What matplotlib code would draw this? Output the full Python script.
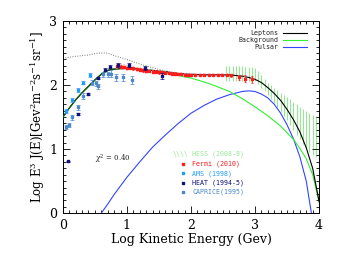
import matplotlib
matplotlib.use("Agg")
import matplotlib.pyplot as plt
from matplotlib.ticker import MultipleLocator
from matplotlib.lines import Line2D

# ---- model curves ----
lep_x = [0, 0.1, 0.2, 0.3, 0.4, 0.5, 0.6, 0.7, 0.8, 1.0, 1.2, 1.4, 1.6, 1.8, 2.0, 2.2, 2.4,
         2.6, 2.8, 2.9, 3.0, 3.1, 3.2, 3.3, 3.4, 3.5, 3.6, 3.7, 3.8, 3.9, 4.0]
lep_y = [1.50, 1.64, 1.77, 1.88, 1.98, 2.08, 2.17, 2.23, 2.25, 2.26, 2.25, 2.23, 2.21, 2.18,
         2.17, 2.16, 2.16, 2.16, 2.14, 2.12, 2.09, 2.04, 1.96, 1.87, 1.76, 1.62, 1.46, 1.27,
         1.02, 0.70, 0.18]
bg_x = [0, 0.1, 0.2, 0.3, 0.4, 0.5, 0.6, 0.7, 0.8, 1.0, 1.2, 1.4, 1.6, 1.8, 2.0, 2.2, 2.4,
        2.6, 2.8, 3.0, 3.2, 3.4, 3.6, 3.7, 3.8, 3.9, 4.0]
bg_y = [1.50, 1.64, 1.77, 1.88, 1.98, 2.08, 2.17, 2.23, 2.25, 2.26, 2.25, 2.23, 2.19, 2.15,
        2.11, 2.05, 1.98, 1.90, 1.79, 1.66, 1.52, 1.36, 1.15, 1.01, 0.85, 0.60, 0.18]
psr_x = [0.6, 0.7, 0.8, 1.0, 1.2, 1.4, 1.6, 1.8, 2.0, 2.2, 2.4, 2.6, 2.8, 2.9, 3.0, 3.1, 3.2,
         3.3, 3.4, 3.5, 3.6, 3.7, 3.8, 3.88]
psr_y = [0.0, 0.14, 0.29, 0.56, 0.80, 1.03, 1.22, 1.40, 1.56, 1.68, 1.78, 1.85, 1.90, 1.91,
         1.90, 1.86, 1.80, 1.70, 1.56, 1.38, 1.16, 0.88, 0.50, 0.0]
dot_x = [0, 0.2, 0.4, 0.55, 0.7, 0.8, 1.0, 1.2, 1.4, 1.6, 1.8]
dot_y = [2.42, 2.45, 2.47, 2.50, 2.50, 2.46, 2.40, 2.33, 2.27, 2.22, 2.19]

# ---- HESS band ----
hess_x = [2.55, 2.6, 2.65, 2.7, 2.75, 2.8, 2.85, 2.9, 2.95, 3.0, 3.05, 3.1, 3.15, 3.2, 3.25,
          3.3, 3.35, 3.4, 3.45, 3.5, 3.55, 3.6, 3.65, 3.7, 3.75, 3.8, 3.85, 3.9, 3.95]
hess_hi = [2.30, 2.30, 2.30, 2.30, 2.30, 2.30, 2.29, 2.28, 2.28, 2.27, 2.22, 2.15, 2.10, 2.04,
           2.00, 1.95, 1.92, 1.88, 1.85, 1.82, 1.78, 1.74, 1.70, 1.66, 1.62, 1.59, 1.56, 1.54, 1.52]
hess_lo = [2.07, 2.07, 2.07, 2.07, 2.07, 2.07, 2.07, 2.07, 2.07, 2.06, 2.01, 1.96, 1.90, 1.84,
           1.78, 1.72, 1.65, 1.58, 1.52, 1.45, 1.38, 1.30, 1.22, 1.15, 1.08, 1.01, 0.95, 0.90, 0.88]

# ---- Fermi 2010 ----
fermi_x = [0.85, 0.9, 0.95, 1.0, 1.05, 1.1, 1.15, 1.2, 1.25, 1.3, 1.35, 1.4, 1.45, 1.5, 1.55,
           1.6, 1.65, 1.7, 1.75, 1.8, 1.85, 1.9, 1.95, 2.0, 2.07, 2.14, 2.21, 2.28, 2.35, 2.42,
           2.49, 2.56, 2.63, 2.75, 2.85, 2.95]
fermi_y = [2.30, 2.29, 2.28, 2.27, 2.27, 2.26, 2.25, 2.24, 2.23, 2.22, 2.22, 2.21, 2.21, 2.20,
           2.20, 2.19, 2.19, 2.18, 2.18, 2.17, 2.17, 2.16, 2.16, 2.16, 2.16, 2.16, 2.16, 2.16,
           2.16, 2.16, 2.16, 2.16, 2.15, 2.12, 2.10, 2.09]
fermi_err = [0.02, 0.02, 0.02, 0.02, 0.02, 0.02, 0.02, 0.02, 0.02, 0.02, 0.02, 0.02, 0.02, 0.02,
             0.02, 0.02, 0.02, 0.02, 0.02, 0.02, 0.02, 0.02, 0.02, 0.02, 0.02, 0.02, 0.02, 0.02,
             0.02, 0.02, 0.02, 0.02, 0.03, 0.04, 0.05, 0.05]
fermi_sys = [0.05, 0.05, 0.05, 0.05, 0.04, 0.04, 0.04, 0.04, 0.04, 0.04, 0.03, 0.03, 0.03, 0.03,
             0.03, 0.03, 0.03, 0.03, 0.03, 0.03, 0.03, 0.03, 0.03, 0.03, 0.03, 0.03, 0.03, 0.03,
             0.03, 0.03, 0.03, 0.03, 0.03, 0.04, 0.05, 0.05]

# ---- AMS 1998 ----
ams_x = [0.05, 0.15, 0.24, 0.32, 0.42]
ams_y = [1.60, 1.77, 1.92, 2.04, 2.16]
ams_err = [0.03, 0.03, 0.03, 0.03, 0.03]

# ---- HEAT 1994-5 ----
heat_x = [0.08, 0.23, 0.39, 0.55, 0.65, 0.74, 0.86, 1.04, 1.28, 1.54]
heat_y = [0.81, 1.55, 1.86, 2.11, 2.24, 2.29, 2.31, 2.31, 2.27, 2.14]
heat_err = [0.01, 0.02, 0.02, 0.02, 0.02, 0.02, 0.03, 0.03, 0.03, 0.05]

# ---- CAPRICE 1995 ----
cap_x = [0.05, 0.10, 0.15, 0.23, 0.32, 0.45, 0.51, 0.55, 0.63, 0.70, 0.75, 0.83, 0.94, 1.08]
cap_y = [1.35, 1.37, 1.50, 1.65, 1.83, 2.04, 2.03, 1.98, 2.17, 2.17, 2.18, 2.12, 2.12, 2.08]
cap_err = [0.03, 0.03, 0.04, 0.04, 0.04, 0.04, 0.04, 0.04, 0.04, 0.04, 0.05, 0.05, 0.05, 0.06]

c_lep = "black"
c_bg = "#33ee33"
c_psr = "#3344ff"
c_hess = "#99e699"
c_fermi = "#ff1a1a"
c_fermi_sys = "#ffb3b3"
c_ams = "#2299ff"
c_heat = "#10107a"
c_cap = "#4a86c8"

plt.rcParams["font.family"] = "DejaVu Serif"
plt.rcParams["mathtext.fontset"] = "dejavuserif"

fig = plt.figure(figsize=(3.38, 2.54), dpi=100)
ax = fig.add_axes([0.186, 0.161, 0.758, 0.756])

# HESS hatched band
ax.vlines(hess_x, hess_lo, hess_hi, color=c_hess, lw=0.8, zorder=1)

# curves
ax.plot(dot_x, dot_y, color="#777777", ls=(0, (1, 1.5)), lw=0.7, zorder=2)
ax.plot(psr_x, psr_y, color=c_psr, lw=0.8, zorder=3)
ax.plot(bg_x, bg_y, color=c_bg, lw=0.8, zorder=3)
ax.plot(lep_x, lep_y, color=c_lep, lw=0.8, zorder=4)
ax.plot(bg_x[:9], bg_y[:9], color="#1a5c1a", lw=0.8, zorder=5)

# data
ax.errorbar(fermi_x, fermi_y, yerr=fermi_sys, fmt="none", ecolor=c_fermi_sys, elinewidth=1.5,
            capsize=0, zorder=5, alpha=0.6)
ax.errorbar(fermi_x, fermi_y, yerr=fermi_err, fmt="s", ms=1.5, color=c_fermi, ecolor=c_fermi,
            elinewidth=0.5, capsize=0.8, capthick=0.5, zorder=6)
ax.errorbar(cap_x, cap_y, yerr=cap_err, fmt="s", ms=1.5, color=c_cap, ecolor=c_cap,
            elinewidth=0.5, capsize=1.2, capthick=0.5, zorder=6)
ax.errorbar(ams_x, ams_y, yerr=ams_err, fmt="s", ms=1.8, color=c_ams, ecolor=c_ams,
            elinewidth=0.5, capsize=1.2, capthick=0.5, zorder=6)
ax.errorbar(heat_x, heat_y, yerr=heat_err, fmt="s", ms=1.8, color=c_heat, ecolor=c_heat,
            elinewidth=0.5, capsize=1.2, capthick=0.5, zorder=7)

ax.set_xlim(0, 4)
ax.set_ylim(0, 3)
ax.xaxis.set_major_locator(MultipleLocator(1))
ax.xaxis.set_minor_locator(MultipleLocator(0.1))
ax.yaxis.set_major_locator(MultipleLocator(1))
ax.yaxis.set_minor_locator(MultipleLocator(0.1))
ax.tick_params(which="both", direction="in", top=True, right=True, width=0.6, labelsize=9,
               pad=4)
ax.tick_params(which="major", length=5)
ax.tick_params(which="minor", length=2.5)
for s in ax.spines.values():
    s.set_linewidth(0.7)

ax.set_xlabel("Log Kinetic Energy (Gev)", fontsize=9, labelpad=1)
ax.set_ylabel(r"Log E$^3$ J(E)[Gev$^2$m$^{-2}$s$^{-1}$sr$^{-1}$]", fontsize=8.5, labelpad=2)

# model legend (upper right)
mfont = dict(family="DejaVu Sans Mono", fontsize=4.8, color="#222222")
model_names = ["Leptons", "Background", "Pulsar"]
model_cols = [c_lep, c_bg, c_psr]
for i, (nm, col) in enumerate(zip(model_names, model_cols)):
    yy = 2.81 - i * 0.11
    ax.text(3.36, yy, nm, ha="right", va="center", **mfont)
    ax.add_line(Line2D([3.44, 3.81], [yy, yy], color=col, lw=0.8))

# data legend
dfont = dict(family="DejaVu Sans Mono", fontsize=4.8)
data_names = ["HESS (2008-9)", "Fermi (2010)", "AMS (1998)", "HEAT (1994-5)", "CAPRICE(1995)"]
data_cols = [c_hess, c_fermi, c_ams, c_heat, c_cap]
data_ys = [0.92, 0.77, 0.62, 0.47, 0.33]
for i, (nm, col) in enumerate(zip(data_names, data_cols)):
    yy = data_ys[i]
    if i == 0:
        ax.text(1.97, yy, r"\\\\", ha="right", va="center", color=col, fontsize=4.8,
                family="DejaVu Sans Mono")
    else:
        ax.plot([1.88], [yy], "s", ms=1.6, color=col)
    ax.text(2.02, yy, nm, ha="left", va="center", color=col, **dfont)

ax.text(0.5, 0.84, r"$\chi^2$ = 0.40", fontsize=5, color="#222222", ha="left", va="center")

fig.savefig("out.png", dpi=100)
